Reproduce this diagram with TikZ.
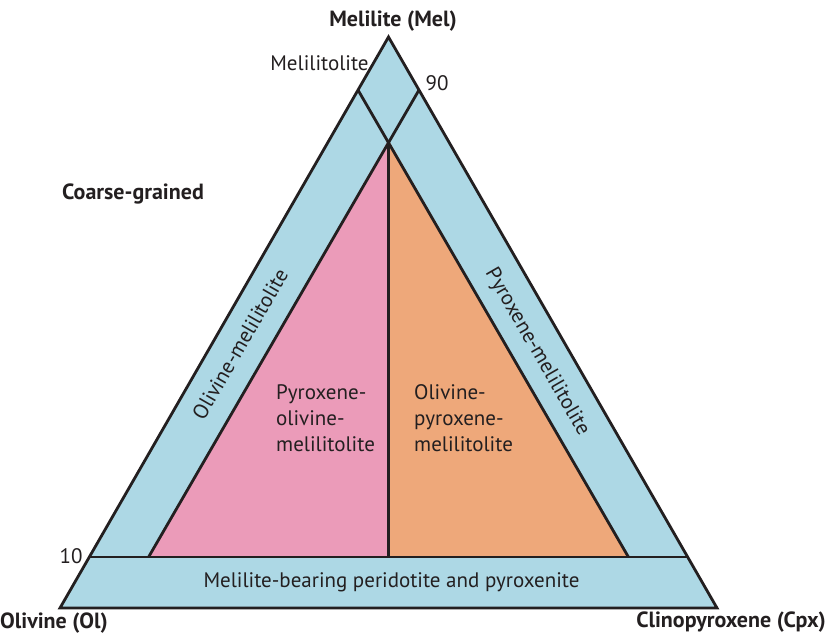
\documentclass[tikz,border=0pt]{standalone}
\usepackage{fontspec}
\setmainfont{PT Sans}
\begin{document}
\begin{tikzpicture}[x=1pt,y=-1pt,
  edge/.style={draw=linec,line width=2.8pt,line join=miter},
  lbl/.style={font=\fontsize{21}{26}\selectfont,text=textc,inner sep=0pt},
  blbl/.style={font=\fontsize{22}{26}\selectfont\bfseries,text=textc,inner sep=0pt},
  multi/.style={lbl,align=left,font=\fontsize{21}{26}\selectfont}]
\definecolor{bandc}{RGB}{173,216,229}
\definecolor{pinkc}{RGB}{235,155,185}
\definecolor{orangec}{RGB}{238,168,122}
\definecolor{linec}{RGB}{35,31,32}
\definecolor{textc}{RGB}{35,31,32}
\useasboundingbox (0,0) rectangle (828,635);
% vertices
\coordinate (A) at (388.5,37);
\coordinate (BL) at (60,608);
\coordinate (BR) at (717,608);
\coordinate (L10) at (89.3,557);
\coordinate (R10) at (687.7,557);
\coordinate (T90L) at (358,90);
\coordinate (T90R) at (419,90);
\coordinate (X) at (388.5,140);
\coordinate (IL) at (148.6,557);
\coordinate (IR) at (628.4,557);
\coordinate (IM) at (388.5,557);
% fills
\fill[bandc] (A) -- (BL) -- (BR) -- cycle;
\fill[pinkc] (X) -- (IL) -- (IM) -- cycle;
\fill[orangec] (X) -- (IM) -- (IR) -- cycle;
% lines
\draw[edge] (A) -- (BL) -- (BR) -- cycle;
\draw[edge] (L10) -- (R10);
\draw[edge] (T90R) -- (IL);
\draw[edge] (T90L) -- (IR);
\draw[edge] (X) -- (IM);
% labels
\node[blbl] (mel) at (393,21) {Melilite (Mel)};
\node[lbl] (melitol) at (319.5,63) {Melilitolite};
\node[lbl] (n90) at (437,83) {90};
\node[lbl] (n10) at (71,556) {10};
\node[blbl,anchor=west] (coarse) at (62,194) {Coarse-grained};
\node[blbl,anchor=west] (ol) at (0,623) {Olivine (Ol)};
\node[blbl,anchor=east] (cpx) at (826,622) {Clinopyroxene (Cpx)};
\node[lbl] (bottom) at (391.5,582) {Melilite-bearing peridotite and pyroxenite};
\node[lbl,rotate=60] (olmel) at (240,344) {Olivine-melilitolite};
\node[lbl,rotate=-60] (pxmel) at (537,352) {Pyroxene-melilitolite};
\node[multi,anchor=west] (pom) at (276,418) {Pyroxene-\\olivine-\\melilitolite};
\node[multi,anchor=west] (opm) at (414,418) {Olivine-\\pyroxene-\\melilitolite};
\end{tikzpicture}
\end{document}
